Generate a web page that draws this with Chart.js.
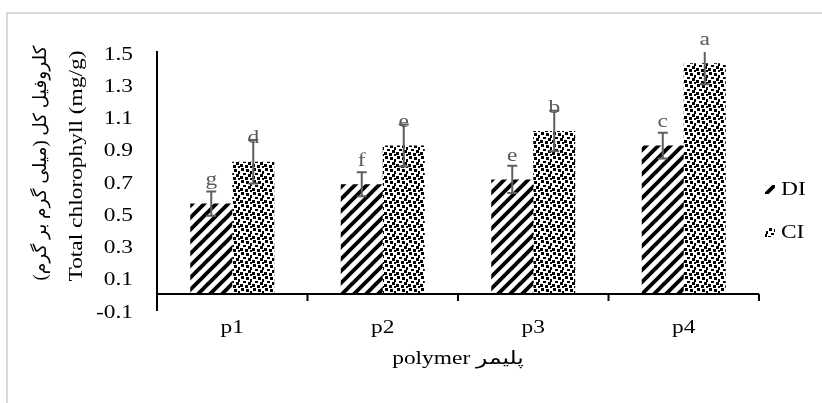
<!DOCTYPE html>
<html><head><meta charset="utf-8">
<script src="https://cdn.jsdelivr.net/npm/chart.js@4"></script>
<style>html,body{margin:0;padding:0;background:#fff;overflow:hidden}#wrap{width:822px;height:403px}</style>
</head><body><div id="wrap"><canvas id="c" width="822" height="403"></canvas></div>
<script>
const categories = ['p1', 'p2', 'p3', 'p4'];
const seriesNames = ['DI', 'CI'];
const diValues = [0.56, 0.68, 0.71, 0.92];
const ciValues = [0.82, 0.92, 1.01, 1.43];
const diErrors = [0.075, 0.075, 0.085, 0.08];
const ciErrors = [0.135, 0.13, 0.125, 0.13];
const diLetters = ['g', 'f', 'e', 'c'];
const ciLetters = ['d', 'e', 'b', 'a'];
const yTicks = [-0.1, 0.1, 0.3, 0.5, 0.7, 0.9, 1.1, 1.3, 1.5];
const yTitleFa = 'کلروفیل کل (میلی گرم بر گرم)';
const yTitleEn = 'Total chlorophyll (mg/g)';
const xTitle = 'polymer پلیمر';

const SERIF = "'Liberation Serif', 'DejaVu Serif', 'DejaVu Sans', serif";
const FONT = '18px ' + SERIF;
const STRETCH = 1.3;

function stripePattern(ctx) {
  const s = 12, c = document.createElement('canvas');
  c.width = c.height = s;
  const g = c.getContext('2d');
  g.fillStyle = '#fff'; g.fillRect(0, 0, s, s);
  g.strokeStyle = '#000'; g.lineWidth = 3.8;
  g.beginPath();
  for (let k = -1; k <= 1; k++) { g.moveTo(k * s - 2, s + 2); g.lineTo(k * s + s + 2, -2); }
  g.stroke();
  return ctx.createPattern(c, 'repeat');
}
function confettiPattern(ctx) {
  const s = 12, c = document.createElement('canvas');
  c.width = c.height = s;
  const g = c.getContext('2d');
  g.fillStyle = '#fff'; g.fillRect(0, 0, s, s);
  g.fillStyle = '#000';
  [[1,0,3,3],[6,1,3,3],[10,3,2,3],[3,5,3,2],[8,6,3,3],[0,8,3,3],[5,9,3,3],[10,10,2,2]]
    .forEach(r => g.fillRect(r[0], r[1], r[2], r[3]));
  return ctx.createPattern(c, 'repeat');
}

const canvas = document.getElementById('c');
const ctx = canvas.getContext('2d');
const stripe = stripePattern(ctx);
const confetti = confettiPattern(ctx);

// draw text stretched along its reading direction
function sText(g, text, x, y, align, sx, color) {
  g.save();
  g.translate(x, y);
  g.scale(sx, 1);
  g.fillStyle = color || '#000';
  g.font = FONT;
  g.textAlign = align;
  g.textBaseline = 'middle';
  g.fillText(text, 0, 0);
  g.restore();
}

const custom = {
  id: 'custom',
  beforeDraw(chart) {
    const g = chart.ctx;
    g.save();
    g.fillStyle = '#fff'; g.fillRect(0, 0, 822, 403);
    g.strokeStyle = '#d9d9d9'; g.lineWidth = 2;
    g.beginPath(); g.moveTo(7, 403); g.lineTo(7, 13); g.lineTo(822, 13); g.stroke();
    g.restore();
  },
  afterDatasetsDraw(chart) {
    const g = chart.ctx, ys = chart.scales.y, a = chart.chartArea;
    const y0 = ys.getPixelForValue(0);
    g.save();
    g.strokeStyle = '#000'; g.lineWidth = 2;
    g.beginPath();
    g.moveTo(a.left, y0); g.lineTo(a.right, y0);
    for (let i = 0; i <= categories.length; i++) {
      const px = a.left + (a.right - a.left) * i / categories.length;
      g.moveTo(px, y0); g.lineTo(px, y0 + 7);
    }
    g.stroke();
    chart.data.datasets.forEach((ds, di) => {
      const meta = chart.getDatasetMeta(di);
      meta.data.forEach((bar, i) => {
        const v = ds.data[i], e = ds.errors[i];
        let top = ys.getPixelForValue(v + e), bot = ys.getPixelForValue(v - e);
        const capTop = top >= a.top;
        top = Math.max(top, a.top);
        const cx = bar.x;
        g.strokeStyle = '#5f5f5f'; g.lineWidth = 2;
        g.beginPath();
        g.moveTo(cx, top); g.lineTo(cx, bot);
        if (capTop) { g.moveTo(cx - 5, top); g.lineTo(cx + 5, top); }
        g.moveTo(cx - 5, bot); g.lineTo(cx + 5, bot);
        g.stroke();
        sText(g, ds.letters[i], cx, bar.y - 23, 'center', STRETCH, '#595959');
      });
    });
    g.restore();
  },
  afterDraw(chart) {
    const g = chart.ctx, xs = chart.scales.x, ys = chart.scales.y;
    g.save();
    // y tick labels
    ys.ticks.forEach(t => {
      sText(g, Number(t.value).toFixed(1), 133, ys.getPixelForValue(t.value) + 3, 'right', STRETCH);
    });
    // x tick labels
    xs.ticks.forEach((t, i) => {
      sText(g, categories[t.value], xs.getPixelForTick(i), 328, 'center', STRETCH);
    });
    // y titles (rotated, stretched along reading direction)
    g.font = FONT;
    g.save(); g.translate(77, 166); g.rotate(-Math.PI / 2);
    sText(g, yTitleEn, 0, 0, 'center', STRETCH);
    g.restore();
    g.font = FONT;
    const faW = g.measureText(yTitleFa).width;
    g.save(); g.translate(41, 163); g.rotate(-Math.PI / 2);
    sText(g, yTitleFa, 0, 0, 'center', 235 / faW);
    g.restore();
    // x title
    sText(g, xTitle, 458, 359, 'center', STRETCH);
    // legend
    const items = [[seriesNames[0], stripe, 190], [seriesNames[1], confetti, 233]];
    items.forEach(it => {
      g.fillStyle = it[1];
      g.fillRect(765, it[2] - 5, 10, 9);
      sText(g, it[0], 781, it[2], 'left', STRETCH);
    });
    g.restore();
  }
};

new Chart(ctx, {
  type: 'bar',
  data: {
    labels: categories,
    datasets: [
      { label: seriesNames[0], data: diValues, backgroundColor: stripe, borderWidth: 0, errors: diErrors, letters: diLetters },
      { label: seriesNames[1], data: ciValues, backgroundColor: confetti, borderWidth: 0, errors: ciErrors, letters: ciLetters }
    ]
  },
  options: {
    responsive: false, animation: false, devicePixelRatio: 1,
    layout: { padding: { left: 0, right: 63, top: 52, bottom: 0 } },
    plugins: { legend: { display: false }, tooltip: { enabled: false } },
    datasets: { bar: { barPercentage: 1, categoryPercentage: 0.558 } },
    scales: {
      x: {
        grid: { display: false, drawTicks: false }, border: { display: false },
        ticks: { display: false },
        afterFit(s) { s.height = 93; }
      },
      y: {
        min: -0.1, max: 1.5,
        afterBuildTicks(s) { s.ticks = yTicks.map(v => ({ value: v })); },
        grid: { display: false, drawTicks: false },
        border: { display: true, color: '#000', width: 2 },
        ticks: { display: false },
        afterFit(s) { s.width = 157; }
      }
    }
  },
  plugins: [custom]
});
</script></body></html>
